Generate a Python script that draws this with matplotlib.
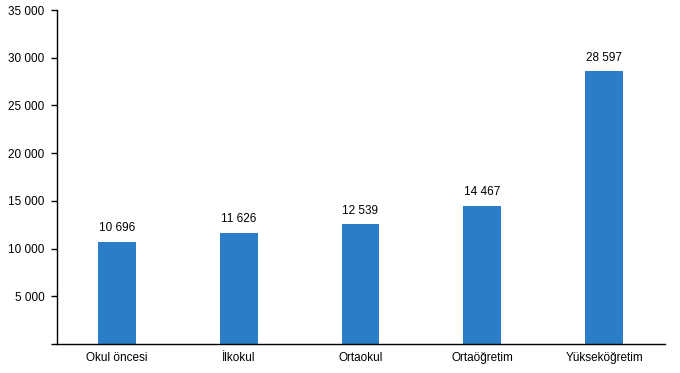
import matplotlib
matplotlib.use("Agg")
import matplotlib.pyplot as plt
from matplotlib.ticker import FuncFormatter

categories = ["Okul öncesi", "İlkokul", "Ortaokul", "Ortaöğretim", "Yükseköğretim"]
values = [10696, 11626, 12539, 14467, 28597]
yticks = [0, 5000, 10000, 15000, 20000, 25000, 30000, 35000]


def fmt(v):
    return f"{int(v):,}".replace(",", " ")


def main():
    plt.rcParams["font.family"] = ["Liberation Sans", "DejaVu Sans"]
    fig = plt.figure(figsize=(6.8, 3.73), dpi=100)
    ax = fig.add_axes([0.084, 0.078, 0.894, 0.895])

    x = range(len(categories))
    bars = ax.bar(x, values, width=0.31, color="#2A7DC6", zorder=2)
    for b, v in zip(bars, values):
        ax.text(b.get_x() + b.get_width() / 2, v + 800, fmt(v),
                ha="center", va="bottom", fontsize=8.5)

    ax.set_xlim(-0.49, len(categories) - 0.5)
    ax.set_ylim(0, 35000)
    ax.set_yticks(yticks)
    ax.yaxis.set_major_formatter(FuncFormatter(lambda v, p: "" if v == 0 else fmt(v)))
    ax.set_xticks(list(x))
    ax.set_xticklabels(categories)
    ax.tick_params(axis="x", length=0, pad=6, labelsize=8.5)
    ax.tick_params(axis="y", length=4, width=1, pad=5, labelsize=8.5)

    for s in ["top", "right"]:
        ax.spines[s].set_visible(False)
    ax.spines["left"].set_linewidth(1)
    ax.spines["bottom"].set_linewidth(1)

    fig.savefig("out.png", dpi=100)


if __name__ == "__main__":
    main()
